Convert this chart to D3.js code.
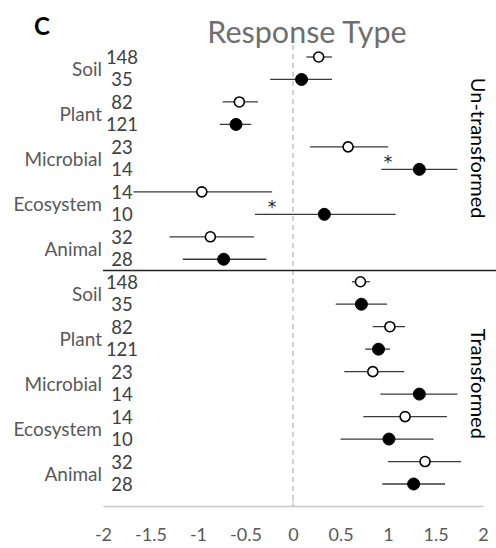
<!DOCTYPE html>
<html>
<head>
<meta charset="utf-8">
<script src="https://cdn.jsdelivr.net/npm/d3@7"></script>
<style>
  html, body { margin: 0; padding: 0; background: #fff; }
  svg { display: block; }
  svg text { font-family: "Lato", "Open Sans", sans-serif; }
  svg text.sig { font-family: "DejaVu Sans", sans-serif; }
</style>
</head>
<body>
<svg id="chart" width="496" height="548"></svg>
<script>
// Effect sizes (mean with 95% CI) by response type, for two data treatments.
const groups = ["Un-transformed", "Transformed"];
const categories = ["Soil", "Plant", "Microbial", "Ecosystem", "Animal"];
// Sample sizes: first (open) and second (filled) estimate in each category
const countsOpen = [148, 82, 23, 14, 32];
const countsFilled = [35, 121, 14, 10, 28];

// Un-transformed estimates
const untransOpenMean = [0.27, -0.565, 0.58, -0.96, -0.87];
const untransOpenLow  = [0.14, -0.74, 0.18, -1.68, -1.30];
const untransOpenHigh = [0.41, -0.37, 1.00, -0.22, -0.41];
const untransFilledMean = [0.09, -0.60, 1.33, 0.33, -0.73];
const untransFilledLow  = [-0.24, -0.77, 0.93, -0.40, -1.16];
const untransFilledHigh = [0.41, -0.44, 1.73, 1.08, -0.28];

// Transformed estimates
const transOpenMean = [0.71, 1.02, 0.84, 1.18, 1.39];
const transOpenLow  = [0.62, 0.84, 0.54, 0.74, 1.00];
const transOpenHigh = [0.81, 1.18, 1.17, 1.62, 1.77];
const transFilledMean = [0.72, 0.90, 1.33, 1.01, 1.27];
const transFilledLow  = [0.45, 0.76, 0.92, 0.50, 0.94];
const transFilledHigh = [0.99, 1.02, 1.73, 1.48, 1.60];

// Significant open-vs-filled differences (un-transformed only)
const significant = ["Microbial", "Ecosystem"];

const xTicks = [-2, -1.5, -1, -0.5, 0, 0.5, 1, 1.5, 2];

// Build row records from the arrays
const series = [
  [untransOpenMean, untransOpenLow, untransOpenHigh, untransFilledMean, untransFilledLow, untransFilledHigh],
  [transOpenMean, transOpenLow, transOpenHigh, transFilledMean, transFilledLow, transFilledHigh]
];
const rows = [];
groups.forEach((g, gi) => {
  const [om, ol, oh, fm, fl, fh] = series[gi];
  categories.forEach((c, ci) => {
    rows.push({ group: g, cat: c, filled: false, n: countsOpen[ci], mean: om[ci], lo: ol[ci], hi: oh[ci] });
    rows.push({ group: g, cat: c, filled: true, n: countsFilled[ci], mean: fm[ci], lo: fl[ci], hi: fh[ci] });
  });
});
rows.forEach((r, i) => r.key = i);

const svg = d3.select("#chart");
const gray = "#595959";

const x = d3.scaleLinear().domain([-2, 2]).range([103, 483]);
const y = d3.scalePoint().domain(rows.map(r => r.key)).range([57, 484]);
const step = y.step();

// Panel letter and title
svg.append("text").attr("x", 34).attr("y", 35)
  .attr("font-size", 24).attr("font-weight", "bold").attr("fill", "#000").text("C");
svg.append("text").attr("x", 307).attr("y", 43).attr("text-anchor", "middle")
  .attr("font-size", 30.5).attr("fill", "#6f6f6f").text("Response Type");

// Zero reference line
svg.append("line")
  .attr("x1", x(0)).attr("x2", x(0)).attr("y1", 45).attr("y2", 506)
  .attr("stroke", "#a6a6a6").attr("stroke-width", 1).attr("stroke-dasharray", "5,4");

// Bottom axis
const axis = svg.append("g").attr("transform", "translate(0,506)")
  .call(d3.axisBottom(x).tickValues(xTicks).tickSize(0).tickPadding(22)
    .tickFormat(d => String(d)));
axis.select(".domain").attr("stroke", "#c8c8c8").attr("stroke-width", 1.5);
axis.selectAll("text").attr("font-size", 18).attr("fill", gray);
svg.append("line").attr("x1", x(0)).attr("x2", x(0)).attr("y1", 498).attr("y2", 506)
  .attr("stroke", "#c8c8c8");

// Separator between the two blocks
const sepY = (y(9) + y(10)) / 2;
svg.append("line").attr("x1", 103).attr("x2", 496).attr("y1", sepY).attr("y2", sepY)
  .attr("stroke", "#222").attr("stroke-width", 1.5);

// Error bars
svg.append("g").selectAll("line").data(rows).join("line")
  .attr("x1", d => x(d.lo)).attr("x2", d => x(d.hi))
  .attr("y1", d => y(d.key)).attr("y2", d => y(d.key))
  .attr("stroke", "#3a3a3a").attr("stroke-width", 1.3);

// Point estimates
svg.append("g").selectAll("circle").data(rows).join("circle")
  .attr("cx", d => x(d.mean)).attr("cy", d => y(d.key))
  .attr("r", d => d.filled ? 6 : 5)
  .attr("fill", d => d.filled ? "#000" : "#fff")
  .attr("stroke", "#000").attr("stroke-width", d => d.filled ? 1 : 1.6);

// Sample size labels
svg.append("g").selectAll("text").data(rows).join("text")
  .attr("x", 122).attr("y", d => y(d.key) + 7)
  .attr("text-anchor", "middle").attr("font-size", 18.5).attr("fill", "#404040")
  .text(d => d.n);

// Category labels, centred between each pair of rows
const catRows = rows.filter(r => !r.filled);
svg.append("g").selectAll("text").data(catRows).join("text")
  .attr("x", 102).attr("y", d => y(d.key) + step / 2 + 8)
  .attr("text-anchor", "end").attr("font-size", 19).attr("fill", gray)
  .text(d => d.cat);

// Significance markers, set at the upper bound of the open estimate
const sigRows = rows.filter(r => r.group === groups[0] && !r.filled && significant.includes(r.cat));
svg.append("g").selectAll("text").data(sigRows).join("text")
  .attr("class", "sig")
  .attr("x", d => x(d.hi)).attr("y", d => y(d.key) + step / 2 + 10)
  .attr("text-anchor", "middle").attr("font-size", 17).attr("fill", "#222")
  .text("*");

// Block labels on the right, rotated
groups.forEach((g, gi) => {
  const first = y(gi * 10), last = y(gi * 10 + 9);
  const cy = gi === 0 ? (first + last) / 2 - 10 : (first + last) / 2 + 1;
  svg.append("text")
    .attr("transform", `translate(471,${cy}) rotate(90)`)
    .attr("text-anchor", "middle").attr("font-size", 20).attr("fill", "#000")
    .text(g);
});
</script>
</body>
</html>
